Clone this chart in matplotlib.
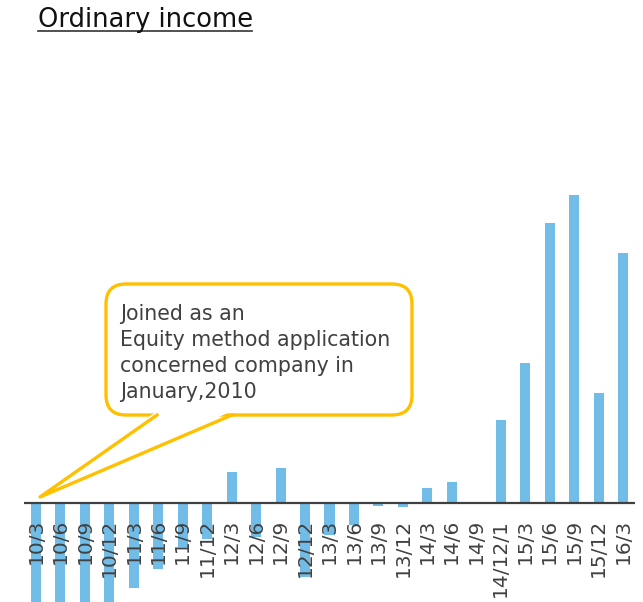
import matplotlib.pyplot as plt
import numpy as np
from matplotlib.patches import FancyBboxPatch, Polygon
import matplotlib.transforms as mtransforms

# quarter labels and ordinary income (arbitrary units)
periods = ['10/3', '10/6', '10/9', '10/12',
           '11/3', '11/6', '11/9', '11/12',
           '12/3', '12/6', '12/9', '12/12',
           '13/3', '13/6', '13/9', '13/12',
           '14/3', '14/6', '14/9', '14/12/1',
           '15/3', '15/6', '15/9', '15/12', '16/3']
income = [-12.0, -12.0, -12.0, -12.0,
          -8.5, -6.6, -4.4, -3.6,
          3.1, -3.4, 3.5, -7.4,
          -3.2, -2.2, -0.3, -0.4,
          1.5, 2.1, 0.1, 8.3,
          14.0, 28.0, 30.8, 11.0, 25.0]

note = 'Joined as an\nEquity method application\nconcerned company in\nJanuary,2010'

bar_col = '#72BCE8'
text_col = '#404040'
callout_col = '#FFC000'

W, H = 643, 602
fig = plt.figure(figsize=(W / 100, H / 100), dpi=100)
ax = fig.add_axes([24 / W, 0, 611 / W, 1])

x = np.arange(len(periods))
ax.bar(x, income, width=0.41, color=bar_col, zorder=2)
ax.axhline(0, color=text_col, lw=1.6, zorder=3)
ax.set_xlim(-0.49, len(periods) - 0.51)
ax.set_ylim(-9.9, 50.3)
ax.axis('off')

# rotated period labels just under the zero line
lab_tr = ax.transData + mtransforms.ScaledTranslation(0, -16 / 100, fig.dpi_scale_trans)
for xi, lab in zip(x, periods):
    ax.text(xi, 0, lab, rotation=90, ha='center', va='top', fontsize=14.5,
            color=text_col, transform=lab_tr, zorder=4)

# title with underline
fig.text(38 / W, 1 - 27 / H, 'Ordinary income', fontsize=18.5, color='#111111',
         ha='left', va='baseline')
fig.add_artist(plt.Line2D([38 / W, 252 / W], [1 - 31 / H, 1 - 31 / H],
                          color='#333333', lw=1.2))

# speech bubble (inches from bottom-left)
inch = fig.dpi_scale_trans
def pt(px, py):
    return (px / 100, (H - py) / 100)

bx0, by0 = pt(106, 415)
bx1, by1 = pt(412, 284)
box = FancyBboxPatch((bx0, by0), bx1 - bx0, by1 - by0,
                     boxstyle='round,pad=0,rounding_size=0.2',
                     transform=inch, facecolor='white', edgecolor=callout_col,
                     lw=2.4, zorder=5)
fig.add_artist(box)

base_l = pt(157, 415)
base_r = pt(232, 415)
tip = pt(40, 497)
cover = Polygon([pt(157, 411), tip, pt(232, 411)], closed=True,
                transform=inch, facecolor='white', edgecolor='none', zorder=6)
fig.add_artist(cover)
fig.add_artist(plt.Line2D([base_l[0], tip[0], base_r[0]],
                          [base_l[1], tip[1], base_r[1]],
                          transform=inch, color=callout_col, lw=2.4,
                          solid_joinstyle='round', zorder=7))

tx, ty = pt(120, 304)
fig.text(tx, ty, note, transform=inch, fontsize=14.8, color=text_col,
         ha='left', va='top', linespacing=1.38, zorder=8)

fig.savefig('out.png', dpi=100)
